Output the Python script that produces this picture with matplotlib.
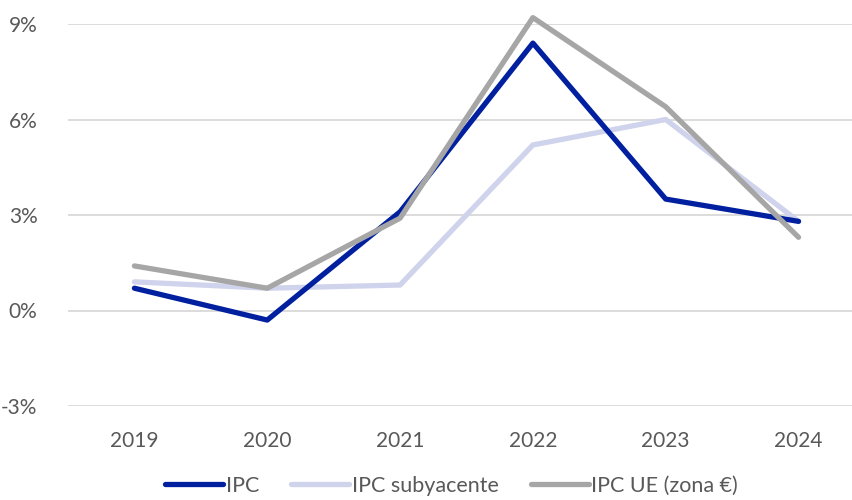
import matplotlib
matplotlib.use("Agg")
from matplotlib import pyplot as plt
import numpy as np

years = ["2019", "2020", "2021", "2022", "2023", "2024"]
ipc = [0.7, -0.3, 3.1, 8.4, 3.5, 2.8]
ipc_sub = [0.9, 0.7, 0.8, 5.2, 6.0, 2.8]
ipc_ue = [1.4, 0.7, 2.9, 9.2, 6.4, 2.3]

plt.rcParams['font.family'] = ['Lato', 'DejaVu Sans']

fig = plt.figure(figsize=(8.53, 5.0), dpi=100)
ax = fig.add_axes([68 / 853, 1 - 406 / 500, 1 - 68 / 853, (406 - 24) / 500])

x = np.arange(len(years))
lw = 3.8
style = dict(lw=lw, solid_capstyle="round", solid_joinstyle="round", clip_on=False)
ax.plot(x, ipc, color="#00209F", label="IPC", zorder=3, **style)
ax.plot(x, ipc_sub, color="#D0D3EC", label="IPC subyacente", zorder=2, **style)
ax.plot(x, ipc_ue, color="#A6A6A6", label="IPC UE (zona €)", zorder=4, **style)

ax.set_xlim(-0.5, 5.41)
ax.set_ylim(-3, 9)
ax.set_yticks([-3, 0, 3, 6, 9])
ax.set_yticklabels([f"{v}%" for v in [-3, 0, 3, 6, 9]])
ax.set_xticks(x)
ax.set_xticklabels(years)

ax.grid(axis="y", color="#D9D9D9", lw=1.3, zorder=0)
for s in ax.spines.values():
    s.set_visible(False)
ax.tick_params(length=0, labelsize=15, labelcolor="#595959")
ax.tick_params(axis="x", pad=18)
ax.tick_params(axis="y", pad=22)

leg = fig.legend(loc="lower left", bbox_to_anchor=(146 / 853, -0.03), ncol=3, frameon=False,
                 fontsize=15.5, handlelength=2.7, handletextpad=0.1, columnspacing=1.5)
for t in leg.get_texts():
    t.set_color("#595959")

fig.savefig("out.png", dpi=100)
